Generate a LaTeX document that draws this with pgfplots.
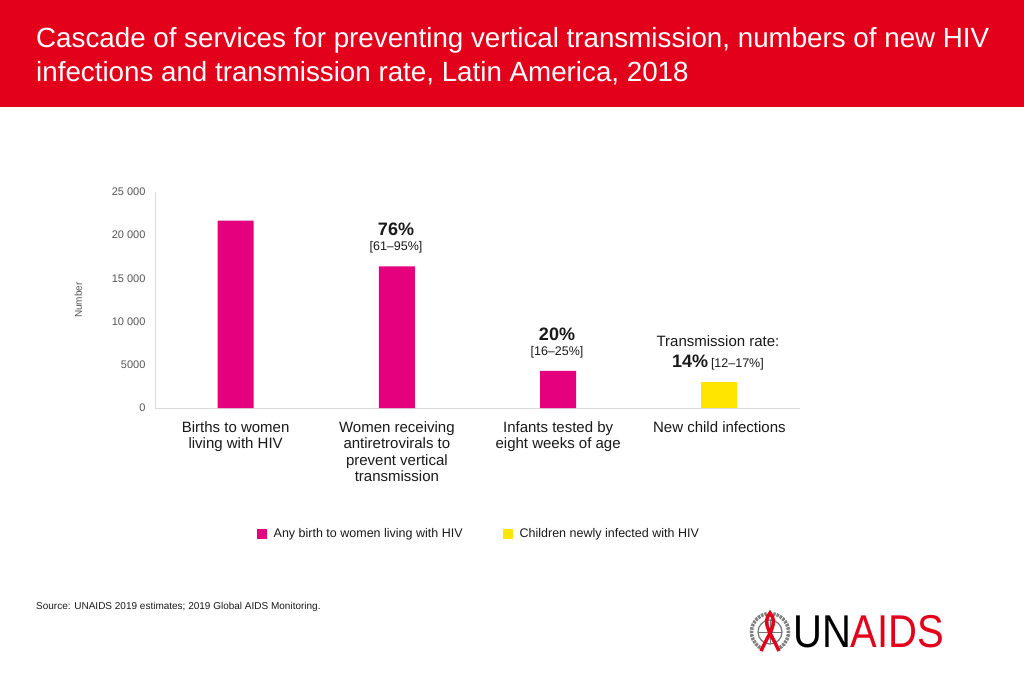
\documentclass[border=0pt]{standalone}
\usepackage{pgfplots}
\pgfplotsset{compat=1.18}
\usepackage{fontspec}
\setmainfont{Liberation Sans}
\definecolor{unred}{HTML}{E2001A}
\definecolor{bpink}{HTML}{E5007D}
\definecolor{byel}{HTML}{FFE500}
\definecolor{txt}{HTML}{1A1A1A}
\definecolor{ticktxt}{HTML}{555555}
\begin{document}
\begin{tikzpicture}[x=1pt,y=1pt]
\path[use as bounding box] (0,0) rectangle (1024,683);
\fill[white] (0,0) rectangle (1024,683);
\fill[unred] (0,576) rectangle (1024,683);
\node[anchor=base west, text=white, font=\fontsize{27.75}{30}\selectfont, inner sep=0] at (36,635) {Cascade of services for preventing vertical transmission, numbers of new HIV};
\node[anchor=base west, text=white, font=\fontsize{27.75}{30}\selectfont, inner sep=0] at (36,601) {infections and transmission rate, Latin America, 2018};

\begin{axis}[
  at={(155pt,275pt)}, anchor=south west,
  scale only axis, width=645pt, height=216pt,
  xmin=-0.5, xmax=3.5, ymin=0, ymax=25000,
  ybar, bar width=36pt, bar shift=0pt,
  axis x line*=bottom, axis y line*=left,
  axis line style={draw=black!15, line width=0.9pt, -},
  major tick length=0pt,
  scaled y ticks=false,
  ytick={0,5000,10000,15000,20000,25000},
  yticklabels={0,5000,10 000,15 000,20 000,25 000},
  yticklabel style={font=\fontsize{11}{13}\selectfont, text=ticktxt, xshift=-6pt},
  xtick={0,1,2,3},
  xticklabels={{Births to women\\living with HIV},{Women receiving\\antiretrovirals to\\prevent vertical\\transmission},{Infants tested by\\eight weeks of age},{New child infections}},
  xticklabel style={font=\fontsize{15}{16.5}\selectfont, text=txt, align=center, anchor=north, yshift=-10pt},
  ylabel={Number},
  ylabel style={font=\fontsize{10}{12}\selectfont, text=ticktxt, at={(axis description cs:-0.119,0.5)}, anchor=center},
  legend columns=2,
  legend style={at={(axis description cs:0.502,-0.583)}, anchor=center, draw=none, fill=none,
    font=\fontsize{12.5}{14}\selectfont, text=txt,
    /tikz/every odd column/.append style={column sep=5pt},
    /tikz/every even column/.append style={column sep=38pt}},
]
\addplot[fill=bpink, draw=none, legend image code/.code={\fill[bpink] (0pt,-5pt) rectangle (10pt,5pt);}]
  coordinates {(0,21700) (1,16400) (2,4300)};
\addlegendentry{Any birth to women living with HIV}
\addplot[fill=byel, draw=none, legend image code/.code={\fill[byel] (0pt,-5pt) rectangle (10pt,5pt);}]
  coordinates {(3,3000)};
\addlegendentry{Children newly infected with HIV}
\end{axis}

\node[font=\bfseries\fontsize{18}{20}\selectfont, text=txt] at (396,454) {76\%};
\node[font=\fontsize{12.5}{14}\selectfont, text=txt] at (396,436) {[61–95\%]};
\node[font=\bfseries\fontsize{18}{20}\selectfont, text=txt] at (557,349) {20\%};
\node[font=\fontsize{12.5}{14}\selectfont, text=txt] at (557,331) {[16–25\%]};
\node[font=\fontsize{15}{17}\selectfont, text=txt] at (718,342) {Transmission rate:};
\node[text=txt, anchor=base] at (718,315) {{\bfseries\fontsize{18}{20}\selectfont 14\%} {\fontsize{12.5}{14}\selectfont [12–17\%]}};

\node[anchor=base west, inner sep=0, font=\fontsize{10}{12}\selectfont, text=txt] at (36,74) {Source: UNAIDS 2019 estimates; 2019 Global AIDS Monitoring.};

% logo
\draw[black!55, line width=1.2pt] (770,51) circle (12);
\draw[black!55, line width=0.6pt] (758,51) -- (782,51) (770,39) -- (770,63);
\draw[black!50, line width=3.5pt, dash pattern=on 2.5pt off 1pt] (770,51) ++(100:18.5) arc (100:250:18.5);
\draw[black!50, line width=3.5pt, dash pattern=on 2.5pt off 1pt] (770,51) ++(80:18.5) arc (80:-70:18.5);
\draw[unred, line width=3.5pt] (761,32) .. controls (768,48) and (779,60) .. (770,70) .. controls (761,60) and (772,48) .. (779,32);
\node[anchor=base west, inner sep=0, xscale=0.87] at (793,36) {\fontsize{46}{46}\selectfont\color{black}UN\color{unred}AIDS};
\end{tikzpicture}
\end{document}
